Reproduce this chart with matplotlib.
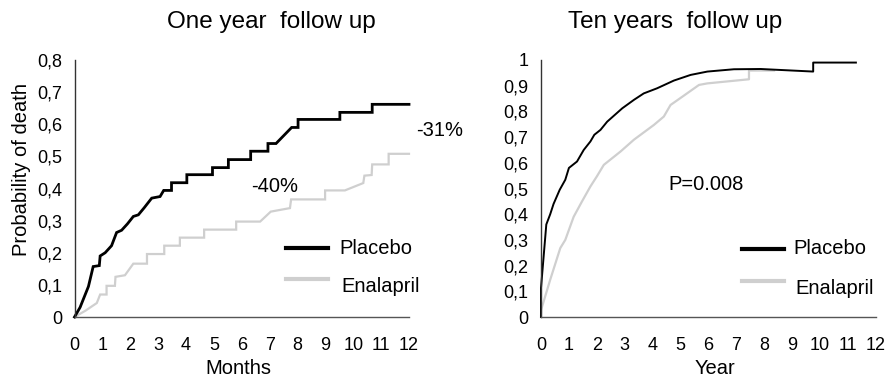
import matplotlib
matplotlib.use("Agg")
import matplotlib.pyplot as plt

plt.rcParams['font.family'] = ['Liberation Sans', 'DejaVu Sans']

# ---------------- data: one year follow up (months) ----------------
months_placebo = [0, 0.2, 0.5, 0.67, 0.89, 0.92, 1.1, 1.33, 1.51, 1.69, 1.9, 2.11, 2.29, 2.5, 2.77,
                  3.07, 3.2, 3.48, 3.48, 4.03, 4.03, 4.95, 4.95, 5.52, 5.52, 6.32, 6.32, 6.94, 6.94,
                  7.23, 7.79, 8.02, 8.02, 9.52, 9.52, 10.68, 10.68, 12.0]
prob_placebo = [0, 0.03, 0.095, 0.157, 0.16, 0.19, 0.2, 0.222, 0.263, 0.27, 0.29, 0.313, 0.318,
                0.34, 0.37, 0.375, 0.394, 0.394, 0.418, 0.418, 0.443, 0.443, 0.465, 0.465, 0.49,
                0.49, 0.516, 0.516, 0.54, 0.54, 0.59, 0.59, 0.615, 0.615, 0.637, 0.637, 0.662, 0.662]

months_enal = [0, 0.4, 0.8, 0.92, 1.15, 1.15, 1.45, 1.47, 1.81, 2.11, 2.6, 2.6, 3.22, 3.22, 3.78,
               3.78, 4.65, 4.65, 5.8, 5.8, 6.66, 7.04, 7.73, 7.77, 8.99, 8.99, 9.7, 10.36, 10.4,
               10.66, 10.68, 11.27, 11.27, 12.0]
prob_enal = [0, 0.02, 0.0435, 0.07, 0.07, 0.097, 0.097, 0.125, 0.13, 0.166, 0.166, 0.196, 0.196,
             0.222, 0.222, 0.247, 0.247, 0.272, 0.272, 0.297, 0.297, 0.328, 0.339, 0.366, 0.366,
             0.394, 0.394, 0.417, 0.44, 0.442, 0.475, 0.475, 0.508, 0.508]

# ---------------- data: ten years follow up (years) ----------------
years_placebo = [0, 0, 0.19, 0.33, 0.45, 0.67, 0.87, 1.0, 1.29, 1.53, 1.77, 1.91, 2.13, 2.37,
                 2.91, 3.33, 3.68, 4.16, 4.76, 5.36, 5.96, 6.91, 7.87, 9.75, 9.75, 11.28]
prob10_placebo = [0, 0.113, 0.36, 0.40, 0.44, 0.495, 0.534, 0.58, 0.605, 0.65, 0.683, 0.709,
                  0.728, 0.76, 0.812, 0.845, 0.87, 0.89, 0.92, 0.942, 0.955, 0.964, 0.965,
                  0.955, 0.99, 0.99]

years_enal = [0, 0.01, 0.33, 0.69, 0.87, 1.17, 1.47, 1.77, 2.0, 2.25, 2.85, 3.33, 4.04, 4.4,
              4.64, 5.06, 5.66, 5.96, 7.45, 7.45, 8.35]
prob10_enal = [0, 0.03, 0.145, 0.268, 0.30, 0.39, 0.45, 0.508, 0.547, 0.592, 0.644, 0.69, 0.747,
               0.78, 0.825, 0.857, 0.903, 0.909, 0.925, 0.959, 0.959]

left_yticks = [0, 0.1, 0.2, 0.3, 0.4, 0.5, 0.6, 0.7, 0.8]
left_ylabels = ['0', '0,1', '0,2', '0,3', '0,4', '0,5', '0,6', '0,7', '0,8']
right_yticks = [0, 0.1, 0.2, 0.3, 0.4, 0.5, 0.6, 0.7, 0.8, 0.9, 1.0]
right_ylabels = ['0', '0,1', '0,2', '0,3', '0,4', '0,5', '0,6', '0,7', '0,8', '0,9', '1']
xticks = list(range(0, 13))

BLACK = '#000000'
GRAY = '#cfcfcf'
W, H = 885, 381

fig = plt.figure(figsize=(W / 100, H / 100), dpi=100)


def px(x, y):
    return x / W, 1 - y / H


def style_axes(ax, yticks, ylabels, ymax):
    ax.set_xlim(0, 12)
    ax.set_ylim(0, ymax)
    ax.set_xticks(xticks)
    ax.set_xticklabels([str(t) for t in xticks])
    ax.set_yticks(yticks)
    ax.set_yticklabels(ylabels)
    for s in ['top', 'right']:
        ax.spines[s].set_visible(False)
    ax.spines['left'].set_color('#333333')
    ax.spines['bottom'].set_color('#555555')
    ax.spines['left'].set_linewidth(1.0)
    ax.spines['bottom'].set_linewidth(1.0)
    ax.tick_params(axis='x', direction='in', length=2, width=1, color='white', pad=14.5, labelsize=13)
    ax.tick_params(axis='y', direction='in', length=2, width=1, color='white', pad=9, labelsize=13)


# ---------------- left panel ----------------
ax1 = fig.add_axes([74.5 / W, 1 - 317 / H, (409 - 74.5) / W, (317 - 60) / H])
style_axes(ax1, left_yticks, left_ylabels, 0.8)
ax1.plot(months_enal, prob_enal, color=GRAY, lw=1.6, solid_joinstyle='miter', clip_on=False)
ax1.plot(months_placebo, prob_placebo, color=BLACK, lw=2.0, solid_joinstyle='miter', clip_on=False)

# ---------------- right panel ----------------
ax2 = fig.add_axes([541 / W, 1 - 317 / H, (876 - 541) / W, (317 - 60) / H])
style_axes(ax2, right_yticks, right_ylabels, 1.0)
ax2.plot(years_enal, prob10_enal, color=GRAY, lw=1.6, clip_on=False)
ax2.plot(years_placebo, prob10_placebo, color=BLACK, lw=1.4, clip_on=False)

# ---------------- legends (manual) ----------------
for (x0, x1, xt, yb, yg) in [(286, 328, 339, 248, 279), (742, 784, 793, 249, 281)]:
    fig.add_artist(plt.Line2D([x0 / W, x1 / W], [1 - yb / H, 1 - yb / H], color=BLACK, lw=3))
    fig.add_artist(plt.Line2D([x0 / W, x1 / W], [1 - yg / H, 1 - yg / H], color=GRAY, lw=3))
    fig.text(*px(xt, yb), 'Placebo', fontsize=14.5, va='center', ha='left')
    fig.text(*px(xt + 2, yg + 8), 'Enalapril', fontsize=14.5, va='center', ha='left')

# ---------------- texts ----------------
fig.text(*px(271, 22), 'One year  follow up', fontsize=17.5, ha='center', va='center')
fig.text(*px(675, 22), 'Ten years  follow up', fontsize=17.5, ha='center', va='center')
fig.text(*px(238, 369), 'Months', fontsize=14.5, ha='center', va='center')
fig.text(*px(715, 369), 'Year', fontsize=14.5, ha='center', va='center')
fig.text(*px(22, 170), 'Probability of death', fontsize=14.5, ha='center', va='center', rotation=90)
fig.text(*px(440, 131), '-31%', fontsize=14.5, ha='center', va='center')
fig.text(*px(275, 187), '-40%', fontsize=14.5, ha='center', va='center')
fig.text(*px(706, 185), 'P=0.008', fontsize=14.5, ha='center', va='center')

fig.savefig('out.png', dpi=100)
